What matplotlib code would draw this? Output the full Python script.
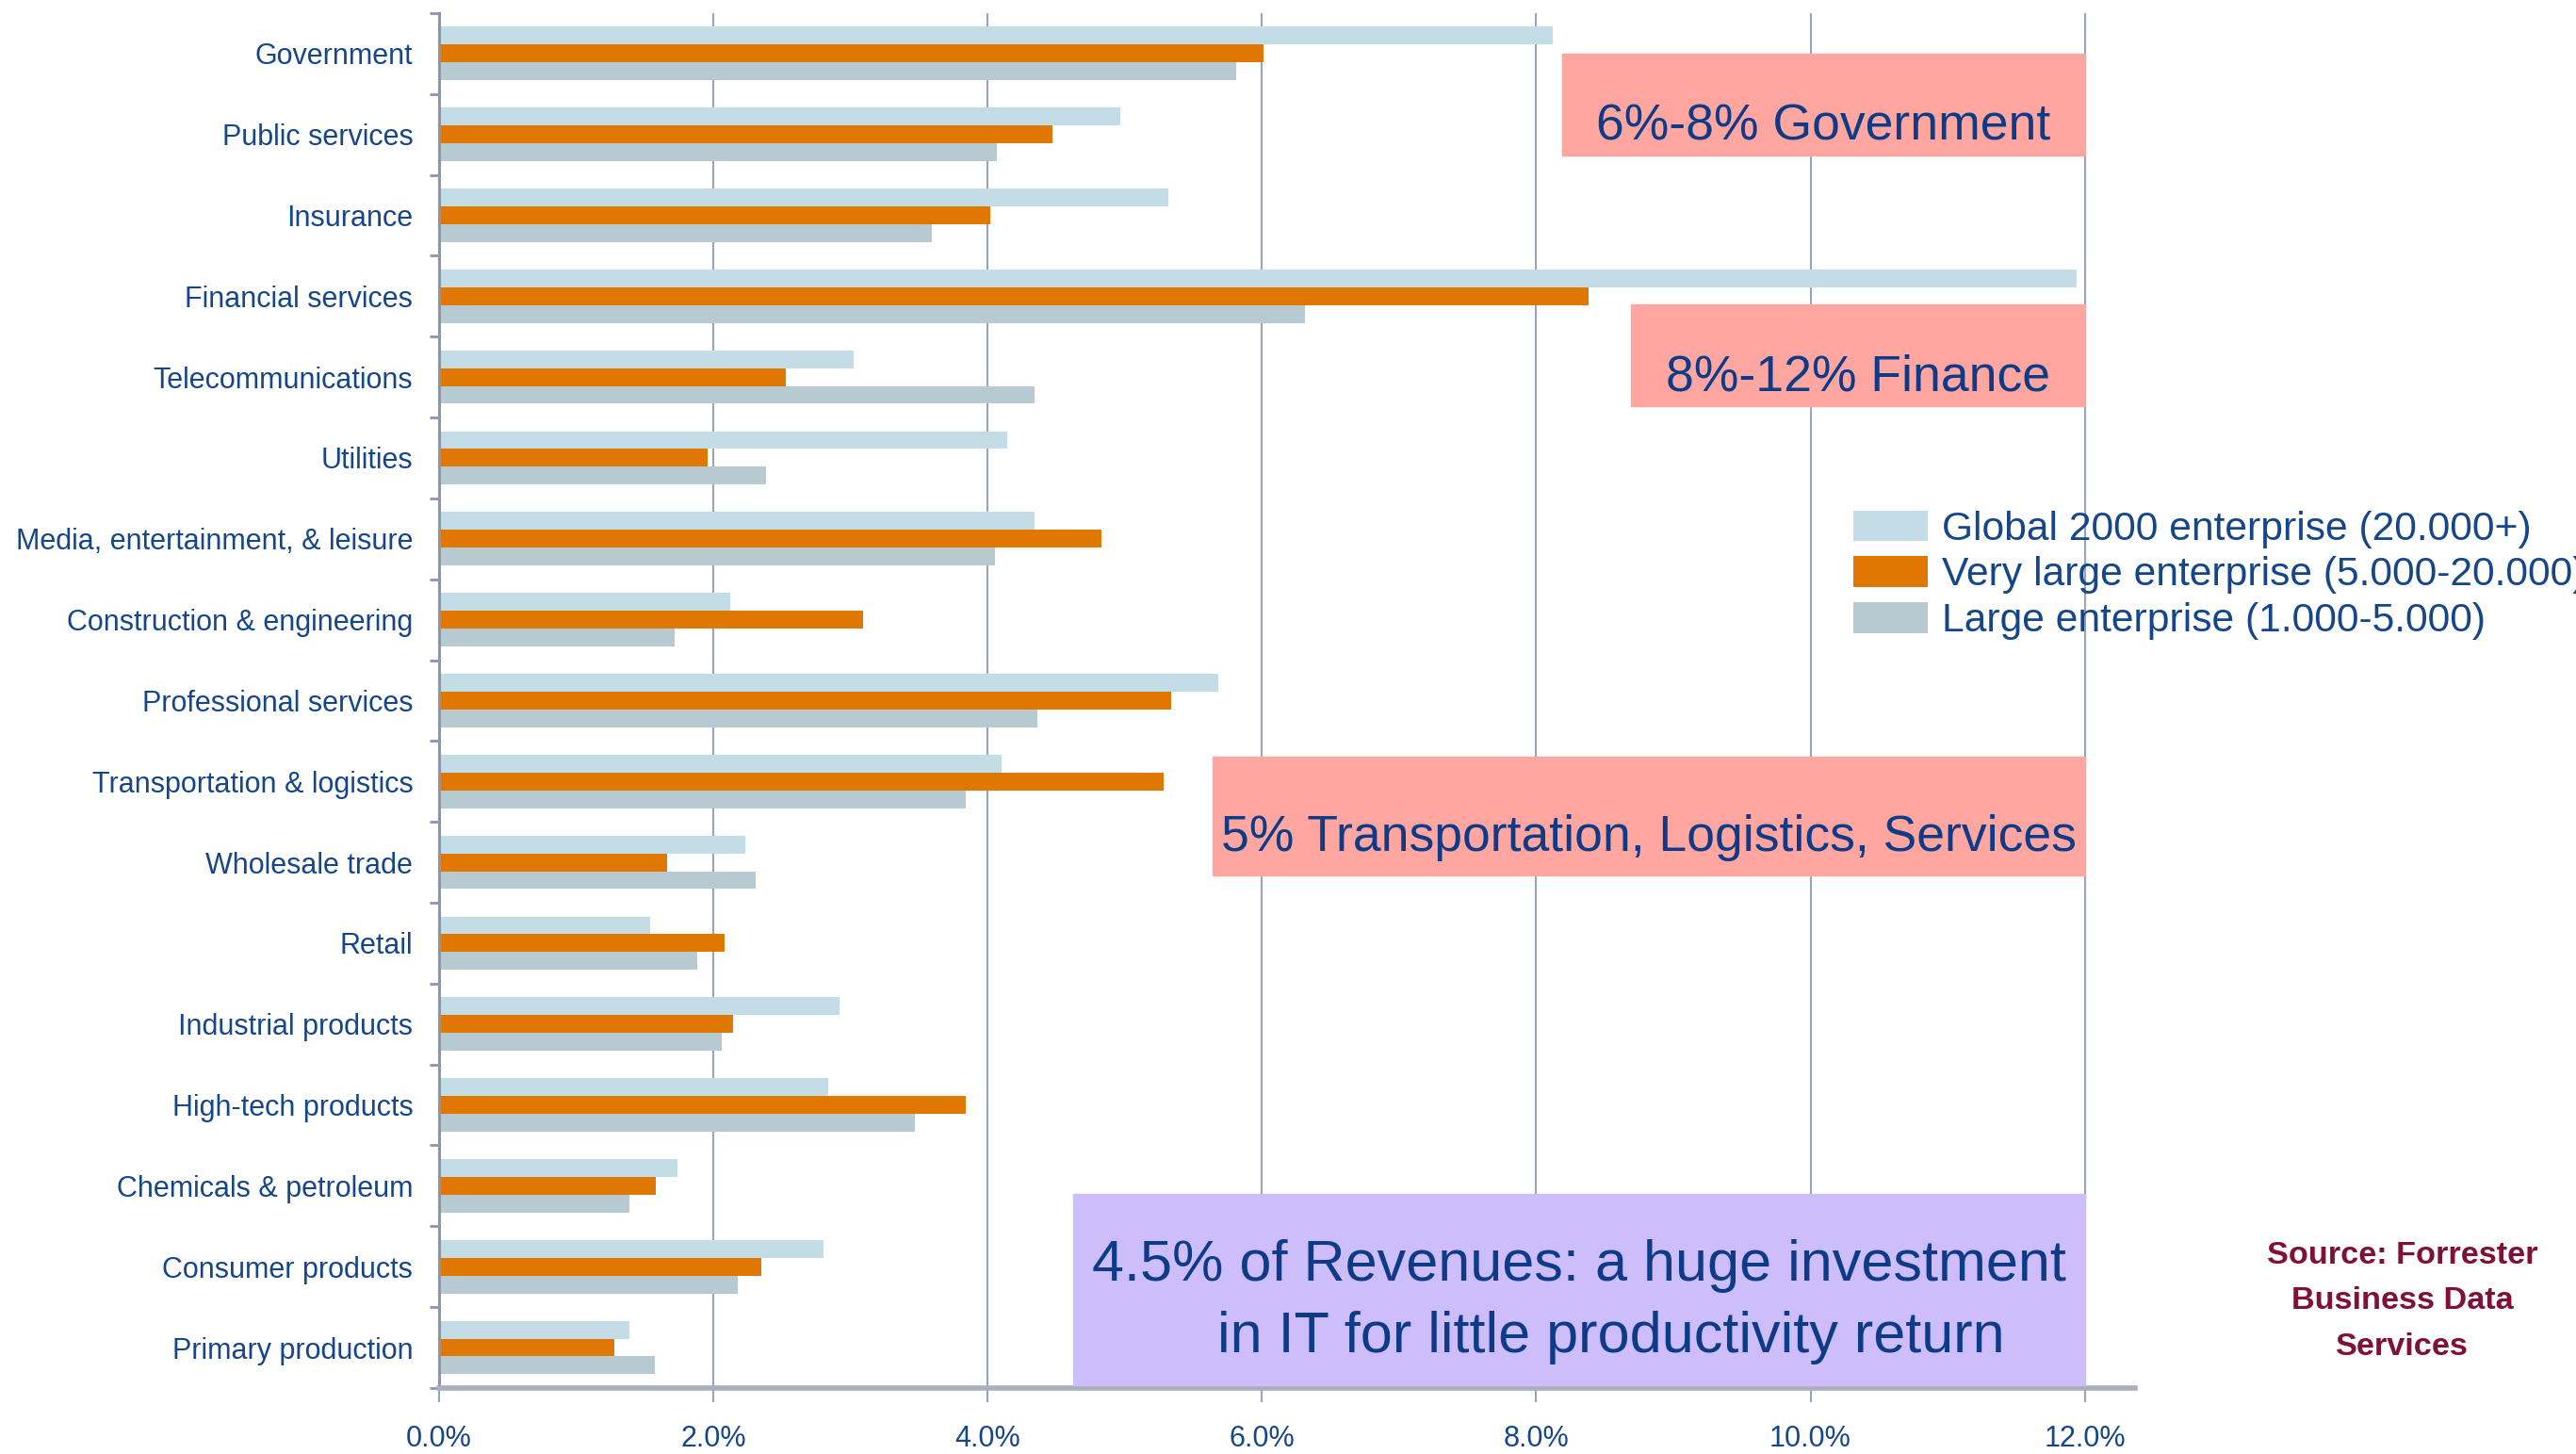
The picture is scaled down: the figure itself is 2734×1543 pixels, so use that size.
import matplotlib
matplotlib.use("Agg")
import matplotlib.pyplot as plt
import numpy as np

plt.rcParams['font.family'] = ['Liberation Sans', 'DejaVu Sans']

industries = ["Government", "Public services", "Insurance", "Financial services",
              "Telecommunications", "Utilities", "Media, entertainment, & leisure",
              "Construction & engineering", "Professional services",
              "Transportation & logistics", "Wholesale trade", "Retail",
              "Industrial products", "High-tech products", "Chemicals & petroleum",
              "Consumer products", "Primary production"]

# IT spend as % of revenue
global2000 = [8.12, 4.97, 5.32, 11.94, 3.02, 4.14, 4.34, 2.12, 5.68, 4.10,
              2.23, 1.54, 2.92, 2.84, 1.74, 2.80, 1.39]
very_large = [6.01, 4.47, 4.02, 8.38, 2.53, 1.96, 4.83, 3.09, 5.34, 5.28,
              1.66, 2.08, 2.14, 3.84, 1.58, 2.35, 1.28]
large = [5.81, 4.07, 3.59, 6.31, 4.34, 2.38, 4.05, 1.72, 4.36, 3.84,
         2.31, 1.88, 2.06, 3.47, 1.39, 2.18, 1.57]

series_names = ["Global 2000 enterprise (20.000+)",
                "Very large enterprise (5.000-20.000)",
                "Large enterprise (1.000-5.000)"]
xticks = [0, 2, 4, 6, 8, 10, 12]

navy = "#16468a"
box_text = "#0d3b87"

fig = plt.figure(figsize=(27.34, 15.43), dpi=100)
ax = fig.add_axes([0.1705, 0.0454, 0.6585, 0.9456])

y = np.arange(len(industries))
h = 0.22
b1 = ax.barh(y - h, global2000, height=h, color="#c2dde6", zorder=2)
b2 = ax.barh(y, very_large, height=h, color="#df7700", zorder=2)
b3 = ax.barh(y + h, large, height=h, color="#b8cad1", zorder=2)

ax.set_xlim(0, 12.37)
ax.set_ylim(len(industries) - 0.5, -0.5)

ax.set_xticks(xticks)
ax.set_xticklabels(["{:.1f}%".format(v) for v in xticks], fontsize=22, color=navy)
ax.set_yticks(y)
ax.set_yticklabels(industries, fontsize=22, color=navy)
ax.set_yticks(np.arange(-0.5, len(industries), 1), minor=True)
ax.tick_params(axis='y', which='major', length=0, pad=20)
ax.tick_params(axis='y', which='minor', length=7, width=2, color="#8c95b0")
ax.tick_params(axis='x', length=11, width=1.5, color="#9aa3be", pad=17)

ax.grid(axis='x', color="#9aa3be", linewidth=1.5, zorder=1)
for s in ['top', 'right']:
    ax.spines[s].set_visible(False)
ax.spines['left'].set_color("#8c95b0")
ax.spines['left'].set_linewidth(2.2)
ax.spines['bottom'].set_color("#a9afbd")
ax.spines['bottom'].set_linewidth(4)

# highlight boxes
def box(x0, x1, y0, y1, color, text, fs=38.5, dy=0.27, ls=1.25):
    ax.add_patch(plt.Rectangle((x0, y0), x1 - x0, y1 - y0, color=color,
                               zorder=3, clip_on=False))
    ax.text((x0 + x1) / 2, (y0 + y1) / 2 + dy, text, ha='center', va='center',
            fontsize=fs, color=box_text, zorder=4, linespacing=ls)

box(8.19, 12.0, 0.0, 1.26, "#ffa6a0", "6%-8% Government")
box(8.69, 12.0, 3.10, 4.36, "#ffa6a0", "8%-12% Finance")
box(5.64, 12.0, 8.70, 10.16, "#ffa6a0", "5% Transportation, Logistics, Services")
box(4.62, 12.0, 14.10, 16.47, "#cdbdfa",
    "4.5% of Revenues: a huge investment\n    in IT for little productivity return",
    fs=44, dy=0.15, ls=1.45)

leg = fig.legend([b1, b2, b3], series_names, loc='upper left',
                 bbox_to_anchor=(0.7195, 0.649), frameon=False, fontsize=30.7,
                 handlelength=1.85, handleheight=0.8, handletextpad=0.35,
                 labelspacing=0.2, borderpad=0, borderaxespad=0)
for t in leg.get_texts():
    t.set_color(navy)

fig.text(0.9325, 0.105, "Source: Forrester\nBusiness Data\nServices", ha='center',
         va='center', fontsize=24.7, fontweight='bold', color="#7f1137",
         linespacing=1.72)

fig.savefig("out.png", dpi=100)
